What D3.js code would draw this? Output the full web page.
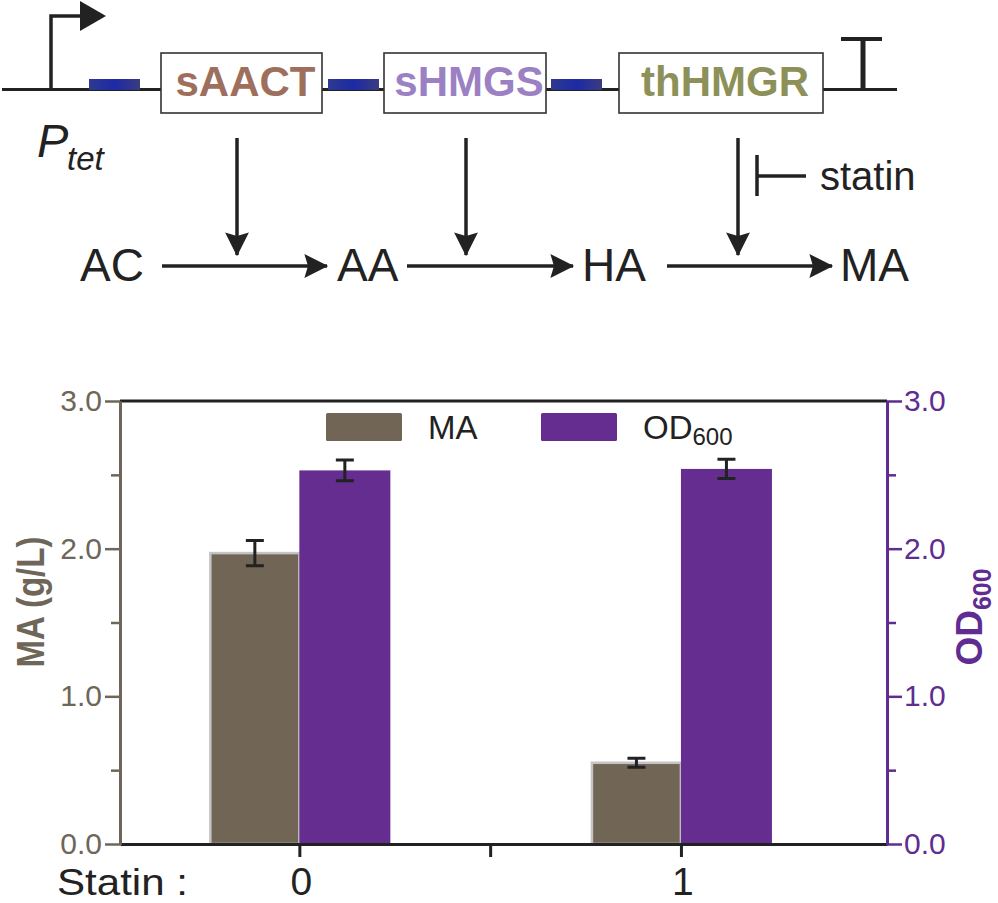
<!DOCTYPE html>
<meta charset="utf-8">
<script src="https://d3js.org/d3.v7.min.js"></script>
<style>
	body{
		margin:0;
		background:#fff;
		font-family:"Liberation Sans", Arial, sans-serif;
	}
</style>
<div id="chart"></div>
<script>
// ---- data ----
var groups = [0, 1]
var groupLabels = ["0", "1"]
var maValues = [1.97, 0.55]
var maErrors = [0.085, 0.03]
var odValues = [2.53, 2.54]
var odErrors = [0.07, 0.065]
var majorTicks = [0, 1, 2, 3]
var minorTicks = [0.5, 1.5, 2.5]

var genes = ["sAACT", "sHMGS", "thHMGR"]
var metabolites = ["AC", "AA", "HA", "MA"]

var maColor = "#716656"
var odColor = "#652d90"
var leftAxisColor = "#6e6658"
var rightAxisColor = "#5f2c91"
var geneColors = ["#9e6f5c", "#9c80c4", "#8d9159"]

var w = 998
var h = 903
var svg = d3.select("#chart").append("svg").attr("width", w).attr("height", h)

// ---- pathway diagram ----
var defs = svg.append("defs")
var grad = defs.append("linearGradient").attr("id", "rbs")
grad.append("stop").attr("offset", "0%").attr("stop-color", "#2e3a8e")
grad.append("stop").attr("offset", "50%").attr("stop-color", "#1c2aa6")
grad.append("stop").attr("offset", "100%").attr("stop-color", "#3a3c7e")

var head = defs.append("marker").attr("id", "head").attr("viewBox", "0 0 10 10")
	.attr("refX", 9.5).attr("refY", 5).attr("markerWidth", 8).attr("markerHeight", 6.8)
	.attr("markerUnits", "strokeWidth").attr("orient", "auto")
head.append("path").attr("d", "M0,0 L10,5 L0,10 L1.5,5 Z").attr("fill", "#222")

var diag = svg.append("g")
var lineY = 89.5
diag.append("line").attr("x1", 2).attr("x2", 897).attr("y1", lineY).attr("y2", lineY)
	.attr("stroke", "#222").attr("stroke-width", 3)

// promoter
diag.append("path").attr("d", "M51," + lineY + " V16 H82").attr("fill", "none")
	.attr("stroke", "#222").attr("stroke-width", 3.5)
diag.append("path").attr("d", "M80,1 L106,16 L80,31 Z").attr("fill", "#222")
diag.append("text").attr("x", 37).attr("y", 157).attr("fill", "#222")
	.style("font-style", "italic").style("font-size", "47px").text("P")
diag.append("text").attr("x", 67).attr("y", 170).attr("fill", "#222")
	.style("font-style", "italic").style("font-size", "33px").text("tet")

// RBS
var rbsX = [89, 328, 551]
diag.selectAll(".rbs").data(rbsX).join("rect").attr("class", "rbs")
	.attr("x", d => d).attr("y", 79).attr("width", 51).attr("height", 11).attr("fill", "url(#rbs)")

// gene boxes
var boxX = [[161, 322], [384, 546], [619, 823]]
genes.forEach(function(g, i){
	diag.append("rect").attr("x", boxX[i][0]).attr("y", 53).attr("width", boxX[i][1] - boxX[i][0]).attr("height", 60)
		.attr("fill", "#fff").attr("stroke", "#333").attr("stroke-width", 1.6)
	diag.append("text").attr("x", (boxX[i][0] + boxX[i][1]) / 2 + 4).attr("y", 96).attr("text-anchor", "middle")
		.attr("fill", geneColors[i]).style("font-weight", "bold").style("font-size", "42px").text(g)
})

// terminator
diag.append("line").attr("x1", 863).attr("x2", 863).attr("y1", lineY).attr("y2", 39)
	.attr("stroke", "#222").attr("stroke-width", 5)
diag.append("line").attr("x1", 841).attr("x2", 882).attr("y1", 39).attr("y2", 39)
	.attr("stroke", "#222").attr("stroke-width", 4)

// enzyme arrows
var enzX = [237, 466, 738]
diag.selectAll(".enz").data(enzX).join("line").attr("class", "enz")
	.attr("x1", d => d).attr("x2", d => d).attr("y1", 138).attr("y2", 255)
	.attr("stroke", "#222").attr("stroke-width", 3.5).attr("marker-end", "url(#head)")

// statin inhibition
diag.append("path").attr("d", "M757,155 V196 M757,176 H806").attr("fill", "none")
	.attr("stroke", "#222").attr("stroke-width", 3.5)
diag.append("text").attr("x", 820).attr("y", 190).attr("fill", "#222").style("font-size", "40px").text("statin")

// metabolites
var metX = [80, 337, 582, 840]
diag.selectAll(".met").data(metabolites).join("text").attr("class", "met")
	.attr("x", (d, i) => metX[i]).attr("y", 281).attr("fill", "#222").style("font-size", "46px").text(d => d)
var reactions = [[162, 327], [407, 573], [667, 832]]
diag.selectAll(".rx").data(reactions).join("line").attr("class", "rx")
	.attr("x1", d => d[0]).attr("x2", d => d[1]).attr("y1", 266).attr("y2", 266)
	.attr("stroke", "#222").attr("stroke-width", 3.5).attr("marker-end", "url(#head)")

// ---- bar chart ----
var plotL = 120, plotR = 887, plotT = 401, plotB = 844
var x = d3.scaleLinear().domain([-0.47, 1.54]).range([plotL, plotR])
var yL = d3.scaleLinear().domain([0, 3]).range([plotB, plotT])
var yR = d3.scaleLinear().domain([0, 3]).range([plotB, plotT])
var bw = 89

var chart = svg.append("g")

// MA bars
chart.selectAll(".ma").data(groups).join("rect").attr("class", "ma")
	.attr("x", d => x(d) - bw).attr("width", bw)
	.attr("y", (d, i) => yL(maValues[i])).attr("height", (d, i) => plotB - yL(maValues[i]))
	.attr("fill", maColor).attr("stroke", "#c4c4c4").attr("stroke-width", 2.5)
// OD bars
chart.selectAll(".od").data(groups).join("rect").attr("class", "od")
	.attr("x", d => x(d)).attr("width", bw + 2)
	.attr("y", (d, i) => yR(odValues[i])).attr("height", (d, i) => plotB - yR(odValues[i]))
	.attr("fill", odColor)

// error bars
function errBars(cls, vals, errs, scale, dx){
	chart.selectAll("." + cls).data(groups).join("path").attr("class", cls)
		.attr("d", function(d, i){
			var cx = x(d) + dx
			var y1 = scale(vals[i] + errs[i]), y2 = scale(vals[i] - errs[i])
			return "M" + (cx - 9) + "," + y1 + " H" + (cx + 9) + " M" + cx + "," + y1 + " V" + y2 + " M" + (cx - 9) + "," + y2 + " H" + (cx + 9)
		}).attr("fill", "none").attr("stroke", "#222").attr("stroke-width", 3)
}
errBars("maErr", maValues, maErrors, yL, -bw / 2)
errBars("odErr", odValues, odErrors, yR, bw / 2 + 1)

// frame top
chart.append("line").attr("x1", plotL).attr("x2", plotR).attr("y1", plotT).attr("y2", plotT)
	.attr("stroke", "#222").attr("stroke-width", 3)

// bottom axis
var xAxis = chart.append("g").attr("transform", "translate(0," + plotB + ")")
	.call(d3.axisBottom(x).tickValues([0, 0.5, 1]).tickSize(13).tickSizeOuter(0).tickFormat(""))
xAxis.select(".domain").attr("stroke", "#222").attr("stroke-width", 3)
xAxis.selectAll(".tick line").attr("stroke", "#222").attr("stroke-width", 3)
chart.selectAll(".xlab").data(groupLabels).join("text").attr("class", "xlab")
	.attr("x", (d, i) => x(groups[i]) + 2).attr("y", 895).attr("text-anchor", "middle")
	.attr("fill", "#222").style("font-size", "39px").text(d => d)
chart.append("text").attr("x", 57).attr("y", 895).attr("textLength", 131).attr("lengthAdjust", "spacingAndGlyphs")
	.attr("fill", "#222").style("font-size", "36px").text("Statin :")

// y axes
function styleAxis(g, color){
	g.select(".domain").attr("stroke", color).attr("stroke-width", 3)
	g.selectAll(".tick line").attr("stroke", color).attr("stroke-width", 2.5)
	g.selectAll(".tick text").attr("fill", color).style("font-size", "30px")
		.style("font-family", "'Liberation Sans', Arial, sans-serif")
}
var lAxis = chart.append("g").attr("transform", "translate(" + plotL + ",0)")
	.call(d3.axisLeft(yL).tickValues(majorTicks).tickSize(15).tickSizeOuter(0).tickPadding(3).tickFormat(d3.format(".1f")))
styleAxis(lAxis, leftAxisColor)
var lMinor = chart.append("g").attr("transform", "translate(" + plotL + ",0)")
	.call(d3.axisLeft(yL).tickValues(minorTicks).tickSize(9).tickSizeOuter(0).tickFormat(""))
styleAxis(lMinor, leftAxisColor)

var rAxis = chart.append("g").attr("transform", "translate(" + plotR + ",0)")
	.call(d3.axisRight(yR).tickValues(majorTicks).tickSize(15).tickSizeOuter(0).tickPadding(2).tickFormat(d3.format(".1f")))
styleAxis(rAxis, rightAxisColor)
var rMinor = chart.append("g").attr("transform", "translate(" + plotR + ",0)")
	.call(d3.axisRight(yR).tickValues(minorTicks).tickSize(9).tickSizeOuter(0).tickFormat(""))
styleAxis(rMinor, rightAxisColor)

// axis titles
chart.append("text").attr("transform", "translate(44,602) rotate(-90)").attr("text-anchor", "middle")
	.attr("textLength", 131).attr("lengthAdjust", "spacingAndGlyphs")
	.attr("fill", leftAxisColor).style("font-weight", "bold").style("font-size", "38px").text("MA (g/L)")
var rt = chart.append("text").attr("transform", "translate(982,617) rotate(-90)").attr("text-anchor", "middle")
	.attr("fill", rightAxisColor).style("font-weight", "bold").style("font-size", "37px")
rt.append("tspan").text("OD")
rt.append("tspan").attr("dy", 9).style("font-size", "25px").text("600")

// legend
var legend = chart.append("g")
var legItems = [{name: "MA", color: maColor, x: 326}, {name: "OD", sub: "600", color: odColor, x: 541}]
legItems.forEach(function(d){
	legend.append("rect").attr("x", d.x).attr("y", 413).attr("width", 76).attr("height", 28).attr("rx", 1.5).attr("fill", d.color)
	var t = legend.append("text").attr("x", d.x + 102).attr("y", 439).attr("fill", "#222").style("font-size", "33px")
	t.append("tspan").text(d.name)
	if(d.sub) t.append("tspan").attr("dy", 6).style("font-size", "24px").text(d.sub)
})
</script>
